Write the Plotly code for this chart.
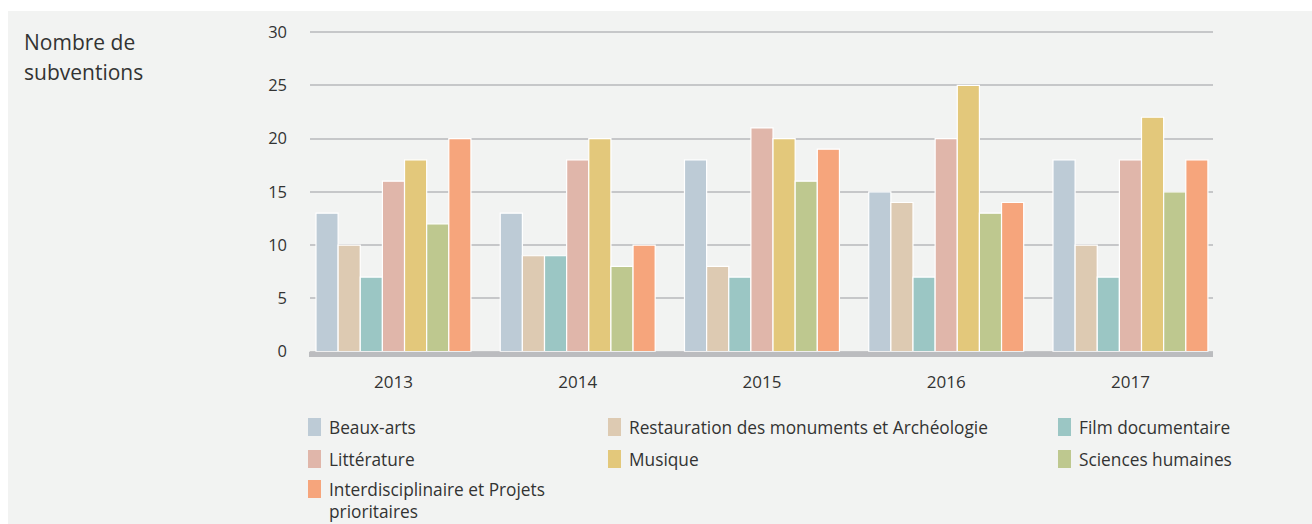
import plotly.graph_objects as go

years = ["2013", "2014", "2015", "2016", "2017"]
series_names = [
    "Beaux-arts",
    "Restauration des monuments et Archéologie",
    "Film documentaire",
    "Littérature",
    "Musique",
    "Sciences humaines",
    "Interdisciplinaire et Projets<br>prioritaires",
]
beaux_arts = [13, 13, 18, 15, 18]
restauration = [10, 9, 8, 14, 10]
film = [7, 9, 7, 7, 7]
litterature = [16, 18, 21, 20, 18]
musique = [18, 20, 20, 25, 22]
sciences = [12, 8, 16, 13, 15]
interdisciplinaire = [20, 10, 19, 14, 18]
series_values = [beaux_arts, restauration, film, litterature, musique, sciences, interdisciplinaire]
colors = ["#bdcbd6", "#ddcab2", "#9bc6c4", "#e0b6aa", "#e3c87b", "#bec88f", "#f6a57c"]
y_ticks = [0, 5, 10, 15, 20, 25, 30]
title_lines = ["Nombre de", "subventions"]

PW, PH = 1312, 524
W, H = PW, PH
# plot area in page pixels
UNIT = 320 / 30.0
Y_TOP = 30 + 2 / UNIT
L, R = 310, 1213
T, B = 30, 357
pw, ph = R - L, B - T

def px(x):
    return (x - L) / pw

def py(y):
    return (B - y) / ph

fig = go.Figure()
for name, vals, c in zip(series_names, series_values, colors):
    fig.add_trace(go.Bar(
        x=years, y=vals, name=name,
        marker=dict(color=c, line=dict(color="#ffffff", width=1.2)),
        showlegend=False,
    ))

font_fam = "Open Sans, Noto Sans, sans-serif"
shapes = []
# gray panel background
shapes.append(dict(type="rect", xref="paper", yref="paper", x0=px(8), x1=px(PW + 5),
                   y0=py(PH + 5), y1=py(11), fillcolor="#f2f3f2", line=dict(width=0), layer="below"))
# baseline band
shapes.append(dict(type="rect", xref="paper", yref="y", x0=px(309), x1=1, y0=-0.5, y1=0,
                   fillcolor="#bbbcbf", line=dict(width=0), layer="above"))

annotations = []
for j, (line, yc) in enumerate(zip(title_lines, [42, 72])):
    annotations.append(dict(text=line, xref="paper", yref="paper",
                            x=px(22), y=py(yc), xanchor="left", yanchor="middle", align="left",
                            showarrow=False, font=dict(family=font_fam, size=21, color="#333333")))

col_x = [308, 608, 1058]
row_y = [427, 459, 489]
for i, (name, c) in enumerate(zip(series_names, colors)):
    cx = col_x[i % 3]
    cy = row_y[i // 3]
    shapes.append(dict(type="rect", xref="paper", yref="paper",
                       x0=px(cx), x1=px(cx + 13), y0=py(cy + 9), y1=py(cy - 9),
                       fillcolor=c, line=dict(width=0)))
    annotations.append(dict(text=name, xref="paper", yref="paper", x=px(cx + 19), y=py(cy - 13),
                            xanchor="left", yanchor="top", align="left", showarrow=False,
                            font=dict(family=font_fam, size=17.3, color="#333333")))

fig.update_layout(
    width=W, height=H,
    margin=dict(l=L, r=PW - R, t=T, b=PH - B, pad=0),
    paper_bgcolor="#ffffff", plot_bgcolor="rgba(0,0,0,0)",
    barmode="group", bargap=0.159, bargroupgap=0.0,
    shapes=shapes, annotations=annotations,
    font=dict(family=font_fam, size=16, color="#333333"),
    xaxis=dict(range=[-0.453, 4.448], showgrid=False, showline=False, ticks="",
               tickfont=dict(size=17, color="#333333"), ticklabelstandoff=13),
    yaxis=dict(range=[-0.5, Y_TOP], tickvals=y_ticks, showgrid=True, gridcolor="#c6c7c9", gridwidth=1.5,
               zeroline=False, showline=False, ticks="", tickfont=dict(size=16.5, color="#333333"),
               ticklabelstandoff=22),
)
fig.write_html("out.html", config={"displayModeBar": False},
               post_script="document.body.style.margin='0';document.body.style.overflow='hidden';")
